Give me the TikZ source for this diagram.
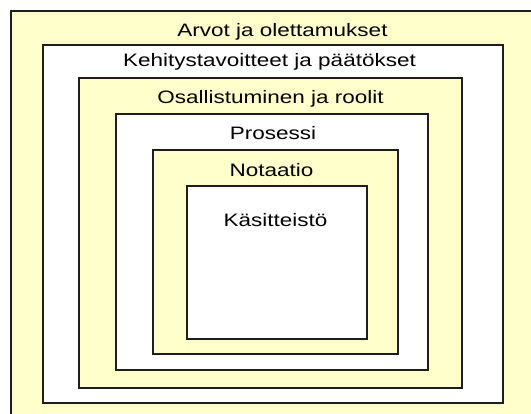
\documentclass[tikz,border=0pt]{standalone}
\usepackage{fontspec}
\setmainfont{Liberation Sans}[FakeStretch=1.25]
\definecolor{paleyellow}{RGB}{255,255,204}
\definecolor{edge}{RGB}{30,30,30}
\tikzset{
  band/.style={draw=edge, line width=1.5pt},
  ylw/.style={band, fill=paleyellow},
  wht/.style={band, fill=white},
  lbl/.style={font=\fontsize{18}{20}\selectfont, text=black, inner sep=0pt, anchor=base}
}
\begin{document}
\begin{tikzpicture}[x=1pt,y=-1pt]
\useasboundingbox (0,0) rectangle (531,414);
\fill[white] (0,0) rectangle (531,414);
\begin{scope}
\clip (0,0) rectangle (531,414);
\draw[ylw] (11,11) rectangle (545,430);
\end{scope}
\draw[wht] (43,45) rectangle (503,403);
\draw[ylw] (79,78) rectangle (462,388);
\draw[wht] (116,114) rectangle (428,370);
\draw[ylw] (153,150) rectangle (398,354);
\draw[wht] (187,186) rectangle (367,339);
\node[lbl] (arvot) at (282.5,37) {Arvot ja olettamukset};
\node[lbl] (kehitys) at (269.5,67) {Kehitystavoitteet ja päätökset};
\node[lbl] (osall) at (270.5,104) {Osallistuminen ja roolit};
\node[lbl] (prosessi) at (273,140) {Prosessi};
\node[lbl] (notaatio) at (271.5,177) {Notaatio};
\node[lbl] (kasit) at (275.5,227) {Käsitteistö};
\end{tikzpicture}
\end{document}
